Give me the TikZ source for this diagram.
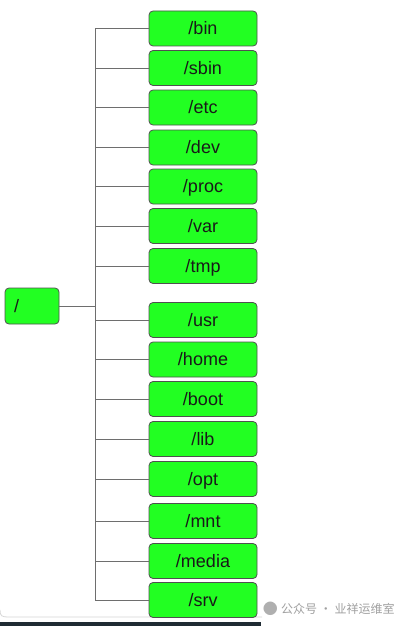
\documentclass[tikz,border=0pt]{standalone}
\usepackage{fontspec}
\setmainfont{Liberation Sans}
\newfontfamily\cjk{Noto Sans CJK SC}
\definecolor{boxgreen}{RGB}{34,255,34}
\definecolor{boxedge}{RGB}{80,80,80}
\definecolor{linkgray}{RGB}{110,110,110}
\definecolor{txt}{RGB}{25,25,25}
\definecolor{barcol}{RGB}{31,43,51}
\begin{document}
\begin{tikzpicture}[x=1pt,y=-1pt,
  dirbox/.style={draw=boxedge, fill=boxgreen, rounded corners=4pt, line width=0.8pt,
    minimum width=108pt, minimum height=35pt, inner sep=0pt,
    text height=13pt, text depth=0.5pt,
    font=\fontsize{18}{20}\selectfont, text=txt},
  rootbox/.style={draw=boxedge, fill=boxgreen, rounded corners=4pt, line width=0.8pt,
    minimum width=54pt, minimum height=36pt, inner xsep=9pt, inner ysep=0pt,
    text height=13pt, text depth=0.5pt,
    text width=36pt, align=left, font=\fontsize{18}{20}\selectfont, text=txt},
  link/.style={draw=linkgray, line width=1pt}]
\useasboundingbox (0,0) rectangle (404,626);
\fill[white] (0,0) rectangle (404,626);
% window edge and bottom bar
\draw[draw={rgb,255:red,215;green,215;blue,215}, line width=0.8pt] (0,610) .. controls (0,616) and (2,617) .. (8,617) -- (262,617);
\fill[barcol] (0,621.5) rectangle (261,626);
% boxes
\node[rootbox] (root) at (32,306) {/};
\node[dirbox] (bin) at (203,28.5) {/bin};
\node[dirbox] (sbin) at (203,68) {/sbin};
\node[dirbox] (etc) at (203,107.5) {/etc};
\node[dirbox] (dev) at (203,147.5) {/dev};
\node[dirbox] (proc) at (203,186.5) {/proc};
\node[dirbox] (var) at (203,226) {/var};
\node[dirbox] (tmp) at (203,266) {/tmp};
\node[dirbox] (usr) at (203,320) {/usr};
\node[dirbox] (home) at (203,359.5) {/home};
\node[dirbox] (boot) at (203,399) {/boot};
\node[dirbox] (lib) at (203,439) {/lib};
\node[dirbox] (opt) at (203,479) {/opt};
\node[dirbox] (mnt) at (203,521) {/mnt};
\node[dirbox] (media) at (203,561) {/media};
\node[dirbox] (srv) at (203,600) {/srv};
\coordinate (trunk) at (95,0);
% connectors
\draw[link] (bin.west -| trunk) -- (srv.west -| trunk);
\draw[link] (root.east) -- (root.east -| trunk);
\foreach \n in {bin,sbin,etc,dev,proc,var,tmp,usr,home,boot,lib,opt,mnt,media,srv}
  \draw[link] (\n.west -| trunk) -- (\n.west);
% watermark
\node[anchor=west, inner sep=0pt, text={rgb,255:red,160;green,160;blue,160}, font=\cjk\fontsize{12}{14}\selectfont] (wm) at (281,609) {公众号 · 业祥运维室};
\node[anchor=east, inner sep=0pt, text={rgb,255:red,175;green,175;blue,175}, font=\fontsize{15}{15}\selectfont] (wmicon) at (278,609) {\cjk ●};
\end{tikzpicture}
\end{document}
